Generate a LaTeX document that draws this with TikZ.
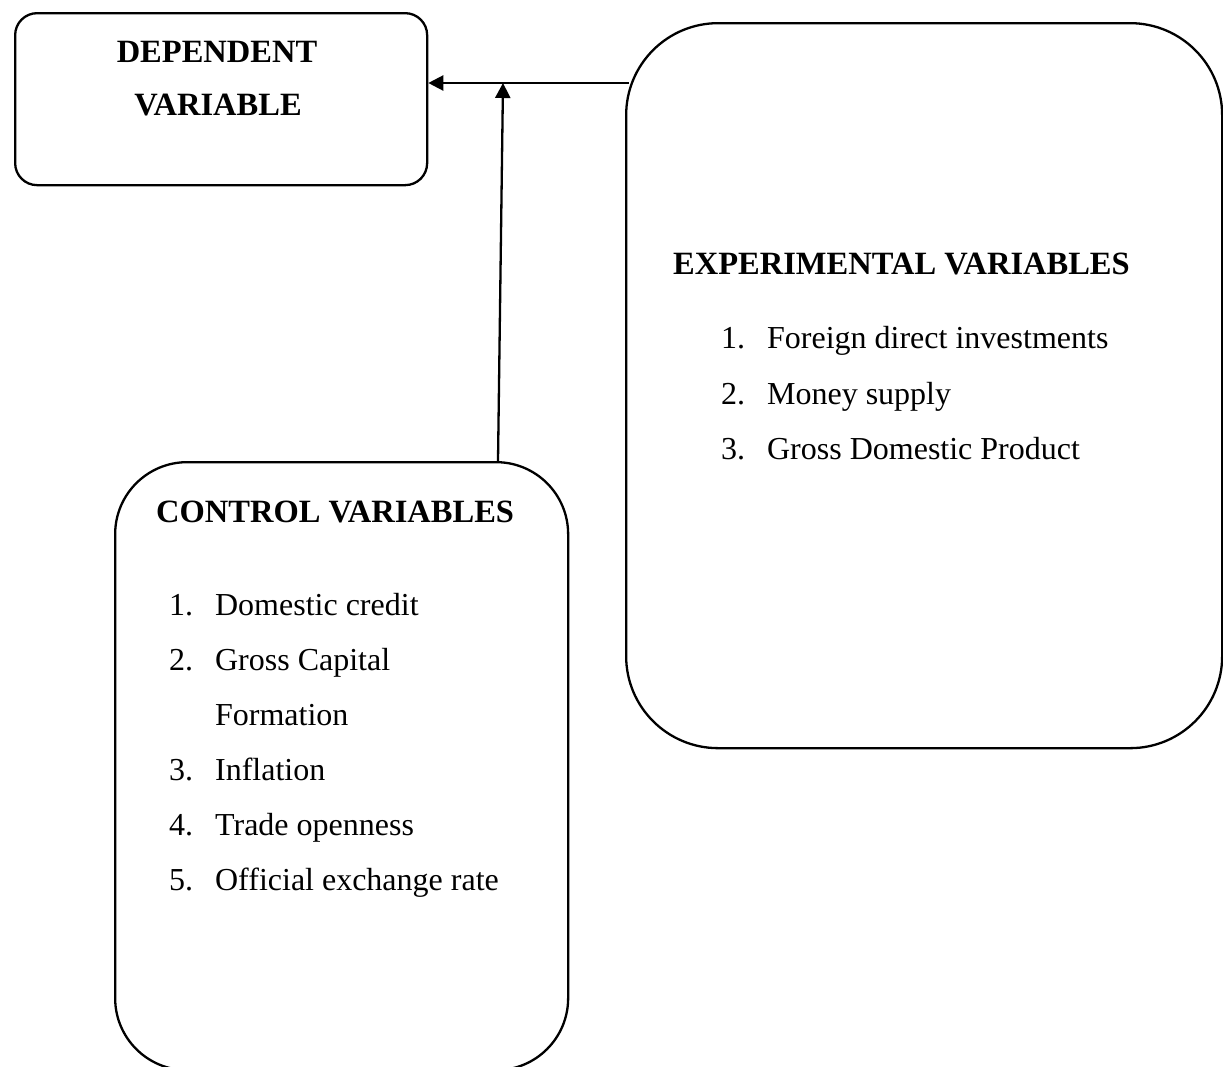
\documentclass[tikz,border=0pt]{standalone}
\usepackage{fontspec}
\setmainfont{Liberation Serif}
\usetikzlibrary{arrows.meta}

\newcommand{\itemno}[1]{\makebox[46pt][l]{#1}}

\begin{document}
\begin{tikzpicture}[x=1pt, y=-1pt, line width=2.3pt,
    >={Triangle[length=15pt,width=15pt]}]

    \tikzset{box/.style={draw, rectangle, anchor=north west, inner sep=0pt},
        head/.style={anchor=base west, inner sep=0pt,
            font=\fontsize{32.5}{39}\selectfont\bfseries},
        item/.style={anchor=base west, inner sep=0pt,
            font=\fontsize{32}{38}\selectfont}}

    \useasboundingbox (0,0) rectangle (1223,1066);

    % the three boxes
    \node[box, rounded corners=22pt, minimum width=412pt, minimum height=172pt] (dep) at (14,12) {};
    \node[box, rounded corners=92pt, minimum width=596pt, minimum height=725pt] (exp) at (625,22) {};
    \node[box, rounded corners=72pt, minimum width=453pt, minimum height=608pt] (ctrl) at (114,461) {};

    % dependent variable
    \node[head, anchor=base] (depA) at (217,62) {DEPENDENT};
    \node[head, anchor=base] (depB) at (218,115) {VARIABLE};

    % experimental variables
    \node[head] (expT) at (672,274) {EXPERIMENTAL VARIABLES};
    \node[item] (exp1) at (720,348) {\itemno{1.}Foreign direct investments};
    \node[item] (exp2) at (720,404) {\itemno{2.}Money supply};
    \node[item] (exp3) at (720,459) {\itemno{3.}Gross Domestic Product};

    % control variables
    \node[head] (ctrlT) at (155,522) {CONTROL VARIABLES};
    \node[item] (ctrl1) at (168,615) {\itemno{1.}Domestic credit};
    \node[item] (ctrl2) at (168,670) {\itemno{2.}Gross Capital};
    \node[item] (ctrl2b) at (214,725) {Formation};
    \node[item] (ctrl3) at (168,780) {\itemno{3.}Inflation};
    \node[item] (ctrl4) at (168,835) {\itemno{4.}Trade openness};
    \node[item] (ctrl5) at (168,890) {\itemno{5.}Official exchange rate};

    % arrows into the dependent box
    \coordinate (fromExp) at (629,83);
    \coordinate (join) at (503,83);
    \coordinate (fromCtrl) at (498,461);
    \draw[->] (fromExp) -- (fromExp -| dep.east);
    \draw[->] (fromCtrl) -- (join);

\end{tikzpicture}
\end{document}
